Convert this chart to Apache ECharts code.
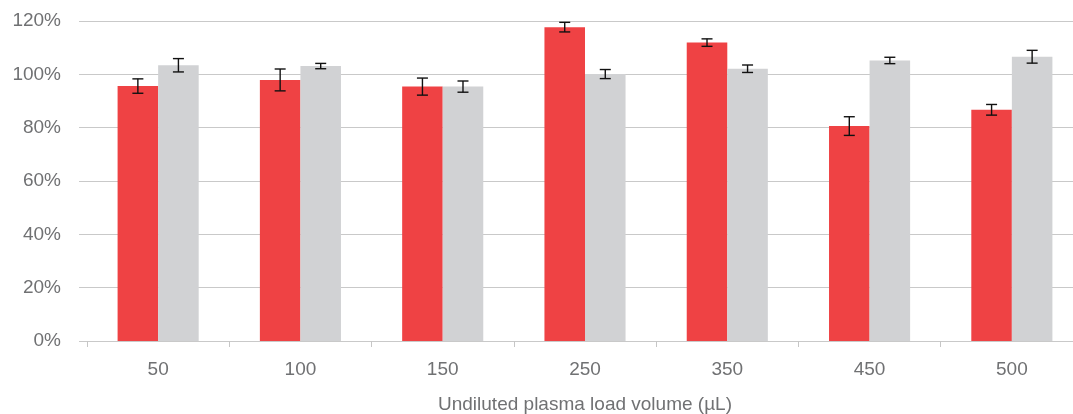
<!DOCTYPE html>
<html>
<head>
<meta charset="utf-8">
<script src="https://cdn.jsdelivr.net/npm/echarts@6/dist/echarts.min.js"></script>
<style>html,body{margin:0;padding:0;background:#fff}#c{width:1073px;height:414px}</style>
</head>
<body>
<div id="c"></div>
<script>
var categories = ['50', '100', '150', '250', '350', '450', '500'];
var redValues = [95.6, 97.9, 95.4, 117.7, 111.9, 80.6, 86.7];
var redErrors = [2.7, 4.1, 3.2, 1.8, 1.4, 3.5, 2.0];
var greyValues = [103.4, 103.1, 95.4, 100.1, 102.1, 105.2, 106.6];
var greyErrors = [2.5, 1.0, 2.1, 1.7, 1.4, 1.2, 2.4];
var yTicks = [0, 20, 40, 60, 80, 100, 120];
var xTitle = 'Undiluted plasma load volume (µL)';

var textColor = '#707173';
var font = 'Liberation Sans';
var catGap = 0.43;           // fraction of band left empty
var barFrac = (1 - catGap) / 2; // each bar's share of the band

function errorData(values, errs) {
  return values.map(function (v, i) { return [i, v - errs[i], v + errs[i]]; });
}
function errorSeries(values, errs, side) {
  return {
    type: 'custom',
    xAxisIndex: 1, yAxisIndex: 1,
    z: 10,
    data: errorData(values, errs),
    renderItem: function (params, api) {
      var band = api.size([1, 0])[0];
      var off = side * band * barFrac / 2;
      var lo = api.coord([api.value(0), api.value(1)]);
      var hi = api.coord([api.value(0), api.value(2)]);
      var x = lo[0] + off;
      var cap = 5.5;
      var st = { stroke: '#111', lineWidth: 1.4 };
      return {
        type: 'group',
        children: [
          { type: 'line', shape: { x1: x, y1: hi[1], x2: x, y2: lo[1] }, style: st },
          { type: 'line', shape: { x1: x - cap, y1: hi[1], x2: x + cap, y2: hi[1] }, style: st },
          { type: 'line', shape: { x1: x - cap, y1: lo[1], x2: x + cap, y2: lo[1] }, style: st }
        ]
      };
    }
  };
}

var chart = echarts.init(document.getElementById('c'));
chart.setOption({
  animation: false,
  textStyle: { fontFamily: font },
  grid: [
    { left: 79, right: 0, top: 21, bottom: 73, outerBoundsMode: 'none', containLabel: false },
    { left: 87, width: 996, top: 21, bottom: 73, outerBoundsMode: 'none', containLabel: false }
  ],
  xAxis: [
    { gridIndex: 0, type: 'value', min: 0, max: 1, show: false },
    {
      gridIndex: 1, type: 'category', data: categories,
      axisLine: { show: false },
      axisTick: { show: true, length: 6, lineStyle: { color: '#c6c6c6' } },
      axisLabel: { color: textColor, fontSize: 19, margin: 19, fontFamily: font },
      name: xTitle, nameLocation: 'middle', nameGap: 54,
      nameTextStyle: { color: textColor, fontSize: 19, fontFamily: font, verticalAlign: 'top' }
    }
  ],
  yAxis: [
    {
      gridIndex: 0, type: 'value', min: yTicks[0], max: yTicks[yTicks.length - 1], interval: 20,
      axisLine: { show: false }, axisTick: { show: false },
      axisLabel: { color: textColor, fontSize: 19, margin: 18, fontFamily: font, formatter: '{value}%' },
      splitLine: { lineStyle: { color: '#c9c9c9', width: 1.2 } }
    },
    {
      gridIndex: 1, type: 'value', min: yTicks[0], max: yTicks[yTicks.length - 1], interval: 20,
      show: false, splitLine: { show: false }
    }
  ],
  series: [
    {
      type: 'bar', xAxisIndex: 1, yAxisIndex: 1, data: redValues,
      itemStyle: { color: '#ef4244' },
      barGap: '0%', barCategoryGap: (catGap * 100) + '%'
    },
    {
      type: 'bar', xAxisIndex: 1, yAxisIndex: 1, data: greyValues,
      itemStyle: { color: '#d1d2d4' },
      barGap: '0%', barCategoryGap: (catGap * 100) + '%'
    },
    errorSeries(redValues, redErrors, -1),
    errorSeries(greyValues, greyErrors, 1)
  ]
});
</script>
</body>
</html>
